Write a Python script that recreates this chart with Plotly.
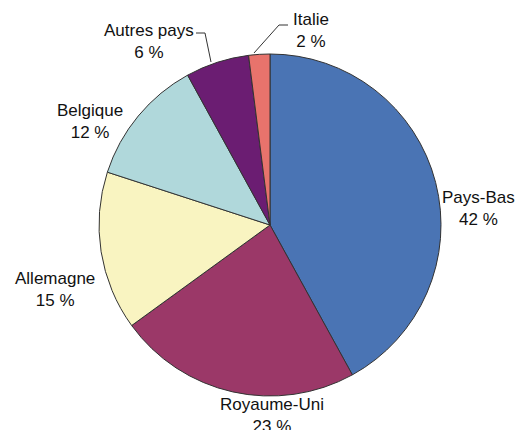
import plotly.graph_objects as go

labels = ["Pays-Bas", "Royaume-Uni", "Allemagne", "Belgique", "Autres pays", "Italie"]
values = [42, 23, 15, 12, 6, 2]
colors = ["#4a74b4", "#9b3868", "#f9f4c1", "#b0d8db", "#6b1d72", "#e8736c"]

W, H = 529, 430
cx, cy, r = 270, 225, 171

# label text positions (pixels)
label_pos = {
    "Pays-Bas": (478, 209),
    "Royaume-Uni": (272, 415),
    "Allemagne": (55, 289),
    "Belgique": (90, 122),
    "Autres pays": (149, 41),
    "Italie": (311, 31),
}

fig = go.Figure(go.Pie(
    labels=labels, values=values, sort=False, direction="clockwise", rotation=0,
    marker=dict(colors=colors, line=dict(color="#333333", width=1)),
    textinfo="none", hoverinfo="label+percent", showlegend=False,
    domain=dict(x=[(cx - r) / W, (cx + r) / W], y=[(H - cy - r) / H, (H - cy + r) / H]),
))

def px(x):
    return x / W

def py(y):
    return 1 - y / H

for lab, v in zip(labels, values):
    x, y = label_pos[lab]
    fig.add_annotation(x=px(x), y=py(y), xref="paper", yref="paper",
                       text=f"{lab}<br>{v} %", showarrow=False,
                       font=dict(family="Liberation Sans, Arial", size=17, color="#111111"),
                       align="center", xanchor="center", yanchor="middle")

# leader lines
fig.add_shape(type="path", xref="paper", yref="paper",
              path=f"M {px(196)} {py(33)} L {px(205)} {py(33)} L {px(211)} {py(62)}",
              line=dict(color="#333333", width=1))
fig.add_shape(type="path", xref="paper", yref="paper",
              path=f"M {px(254)} {py(53)} L {px(279)} {py(25)} L {px(288)} {py(25)}",
              line=dict(color="#333333", width=1))

fig.update_layout(width=W, height=H, margin=dict(l=0, r=0, t=0, b=0),
                  paper_bgcolor="white", plot_bgcolor="white")
fig.write_html("out.html", config={"displayModeBar": False},
               post_script="document.body.style.margin='0px';document.body.style.overflow='hidden';")
